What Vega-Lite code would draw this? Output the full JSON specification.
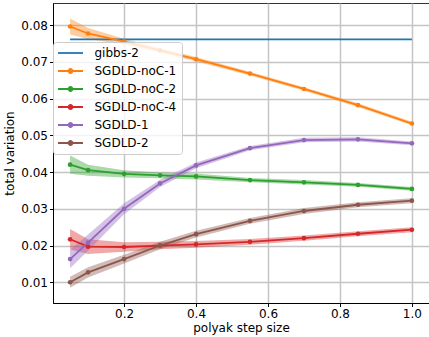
{
  "$schema": "https://vega.github.io/schema/vega-lite/v6.json",
  "width": 376,
  "height": 300,
  "autosize": "none",
  "padding": {"left": 53, "top": 3, "right": 0, "bottom": 34},
  "background": "white",
  "config": {
    "view": {"stroke": "#333333", "strokeWidth": 1},
    "font": "DejaVu Sans",
    "axis": {
      "labelFont": "DejaVu Sans", "labelFontSize": 12, "labelColor": "black",
      "titleFont": "DejaVu Sans", "titleFontSize": 12, "titleFontWeight": "normal", "titleColor": "black",
      "domainColor": "black", "domainWidth": 1,
      "tickColor": "black", "tickSize": 3.5, "tickWidth": 1,
      "gridColor": "#c4c4c4", "gridWidth": 1.5, "labelPadding": 2
    }
  },
  "data": {"values": [
    {"series": "gibbs-2", "x": 0.05, "y": 0.0761, "lo": 0.0761, "hi": 0.0761},
    {"series": "gibbs-2", "x": 1.0, "y": 0.0761, "lo": 0.0761, "hi": 0.0761},
    {"series": "SGDLD-noC-1", "x": 0.05, "y": 0.0796, "lo": 0.0774, "hi": 0.0818},
    {"series": "SGDLD-noC-1", "x": 0.1, "y": 0.0777, "lo": 0.0762, "hi": 0.0792},
    {"series": "SGDLD-noC-1", "x": 0.2, "y": 0.0755, "lo": 0.0747, "hi": 0.0763},
    {"series": "SGDLD-noC-1", "x": 0.3, "y": 0.0731, "lo": 0.0725, "hi": 0.0737},
    {"series": "SGDLD-noC-1", "x": 0.4, "y": 0.0707, "lo": 0.0701, "hi": 0.0713},
    {"series": "SGDLD-noC-1", "x": 0.55, "y": 0.0668, "lo": 0.0663, "hi": 0.0673},
    {"series": "SGDLD-noC-1", "x": 0.7, "y": 0.0626, "lo": 0.0621, "hi": 0.0631},
    {"series": "SGDLD-noC-1", "x": 0.85, "y": 0.0582, "lo": 0.0577, "hi": 0.0587},
    {"series": "SGDLD-noC-1", "x": 1.0, "y": 0.0532, "lo": 0.0527, "hi": 0.0537},
    {"series": "SGDLD-noC-2", "x": 0.05, "y": 0.0420, "lo": 0.0395, "hi": 0.0445},
    {"series": "SGDLD-noC-2", "x": 0.1, "y": 0.0405, "lo": 0.0390, "hi": 0.0420},
    {"series": "SGDLD-noC-2", "x": 0.2, "y": 0.0395, "lo": 0.0385, "hi": 0.0405},
    {"series": "SGDLD-noC-2", "x": 0.3, "y": 0.0391, "lo": 0.0383, "hi": 0.0399},
    {"series": "SGDLD-noC-2", "x": 0.4, "y": 0.0388, "lo": 0.0380, "hi": 0.0396},
    {"series": "SGDLD-noC-2", "x": 0.55, "y": 0.0378, "lo": 0.0372, "hi": 0.0384},
    {"series": "SGDLD-noC-2", "x": 0.7, "y": 0.0372, "lo": 0.0366, "hi": 0.0378},
    {"series": "SGDLD-noC-2", "x": 0.85, "y": 0.0365, "lo": 0.0360, "hi": 0.0370},
    {"series": "SGDLD-noC-2", "x": 1.0, "y": 0.0354, "lo": 0.0349, "hi": 0.0359},
    {"series": "SGDLD-noC-4", "x": 0.05, "y": 0.0217, "lo": 0.0189, "hi": 0.0245},
    {"series": "SGDLD-noC-4", "x": 0.1, "y": 0.0197, "lo": 0.0177, "hi": 0.0217},
    {"series": "SGDLD-noC-4", "x": 0.2, "y": 0.0196, "lo": 0.0183, "hi": 0.0209},
    {"series": "SGDLD-noC-4", "x": 0.3, "y": 0.0200, "lo": 0.0190, "hi": 0.0210},
    {"series": "SGDLD-noC-4", "x": 0.4, "y": 0.0203, "lo": 0.0194, "hi": 0.0212},
    {"series": "SGDLD-noC-4", "x": 0.55, "y": 0.0210, "lo": 0.0202, "hi": 0.0218},
    {"series": "SGDLD-noC-4", "x": 0.7, "y": 0.0220, "lo": 0.0213, "hi": 0.0227},
    {"series": "SGDLD-noC-4", "x": 0.85, "y": 0.0232, "lo": 0.0225, "hi": 0.0239},
    {"series": "SGDLD-noC-4", "x": 1.0, "y": 0.0243, "lo": 0.0236, "hi": 0.0250},
    {"series": "SGDLD-1", "x": 0.05, "y": 0.0163, "lo": 0.0138, "hi": 0.0188},
    {"series": "SGDLD-1", "x": 0.1, "y": 0.0208, "lo": 0.0186, "hi": 0.0230},
    {"series": "SGDLD-1", "x": 0.2, "y": 0.0300, "lo": 0.0285, "hi": 0.0315},
    {"series": "SGDLD-1", "x": 0.3, "y": 0.0369, "lo": 0.0359, "hi": 0.0379},
    {"series": "SGDLD-1", "x": 0.4, "y": 0.0418, "lo": 0.0410, "hi": 0.0426},
    {"series": "SGDLD-1", "x": 0.55, "y": 0.0465, "lo": 0.0459, "hi": 0.0471},
    {"series": "SGDLD-1", "x": 0.7, "y": 0.0487, "lo": 0.0481, "hi": 0.0493},
    {"series": "SGDLD-1", "x": 0.85, "y": 0.0489, "lo": 0.0483, "hi": 0.0495},
    {"series": "SGDLD-1", "x": 1.0, "y": 0.0478, "lo": 0.0473, "hi": 0.0483},
    {"series": "SGDLD-2", "x": 0.05, "y": 0.0100, "lo": 0.0085, "hi": 0.0115},
    {"series": "SGDLD-2", "x": 0.1, "y": 0.0127, "lo": 0.0113, "hi": 0.0141},
    {"series": "SGDLD-2", "x": 0.2, "y": 0.0163, "lo": 0.0151, "hi": 0.0175},
    {"series": "SGDLD-2", "x": 0.3, "y": 0.0200, "lo": 0.0190, "hi": 0.0210},
    {"series": "SGDLD-2", "x": 0.4, "y": 0.0231, "lo": 0.0222, "hi": 0.0240},
    {"series": "SGDLD-2", "x": 0.55, "y": 0.0267, "lo": 0.0259, "hi": 0.0275},
    {"series": "SGDLD-2", "x": 0.7, "y": 0.0294, "lo": 0.0286, "hi": 0.0302},
    {"series": "SGDLD-2", "x": 0.85, "y": 0.0311, "lo": 0.0304, "hi": 0.0318},
    {"series": "SGDLD-2", "x": 1.0, "y": 0.0322, "lo": 0.0315, "hi": 0.0329}
  ]},
  "encoding": {
    "x": {"field": "x", "type": "quantitative",
      "scale": {"domain": [0.0025, 1.0475], "nice": false, "zero": false},
      "axis": {"title": "polyak step size", "values": [0.2, 0.4, 0.6, 0.8, 1.0], "format": ".1f", "titlePadding": 3}}
  },
  "layer": [
    {
      "transform": [{"filter": "datum.series !== 'gibbs-2'"}],
      "mark": {"type": "area", "opacity": 0.4, "clip": true},
      "encoding": {
        "y": {"field": "lo", "type": "quantitative",
          "scale": {"domain": [0.00436, 0.086], "nice": false, "zero": false},
          "axis": {"title": "total variation", "values": [0.01, 0.02, 0.03, 0.04, 0.05, 0.06, 0.07, 0.08], "format": ".2f", "titlePadding": 4}},
        "y2": {"field": "hi"},
        "color": {"field": "series", "type": "nominal",
          "scale": {"domain": ["gibbs-2", "SGDLD-noC-1", "SGDLD-noC-2", "SGDLD-noC-4", "SGDLD-1", "SGDLD-2"],
                    "range": ["#1f77b4", "#ff7f0e", "#2ca02c", "#d62728", "#9467bd", "#8c564b"]}}
      }
    },
    {
      "mark": {"type": "line", "strokeWidth": 1.8, "clip": true},
      "encoding": {
        "y": {"field": "y", "type": "quantitative"},
        "color": {"field": "series", "type": "nominal",
          "legend": {
            "title": null, "orient": "none", "legendX": 0, "legendY": 39,
            "labelFont": "DejaVu Sans", "labelFontSize": 12, "labelColor": "black",
            "symbolSize": 100, "symbolOffset": 6.5, "labelOffset": 18, "rowPadding": 6, "padding": 5,
            "fillColor": "rgba(255,255,255,0.8)", "strokeColor": "#cccccc", "cornerRadius": 3,
            "encode": {"symbols": {"update": {
              "shape": {"signal": "datum.value === 'gibbs-2' ? 'M-2.5,0H2.5' : 'M-2.5,0H2.5M-0.4,0A0.4,0.4 0 1,0 0.4,0A0.4,0.4 0 1,0 -0.4,0Z'"},
              "fill": {"scale": "color", "field": "value"},
              "stroke": {"scale": "color", "field": "value"},
              "strokeWidth": {"value": 1.8},
              "opacity": {"value": 1}
            }}}
          }}
      }
    },
    {
      "transform": [{"filter": "datum.series !== 'gibbs-2'"}],
      "mark": {"type": "point", "filled": true, "size": 22, "opacity": 1, "clip": true},
      "encoding": {
        "y": {"field": "y", "type": "quantitative"},
        "color": {"field": "series", "type": "nominal"}
      }
    }
  ]
}
